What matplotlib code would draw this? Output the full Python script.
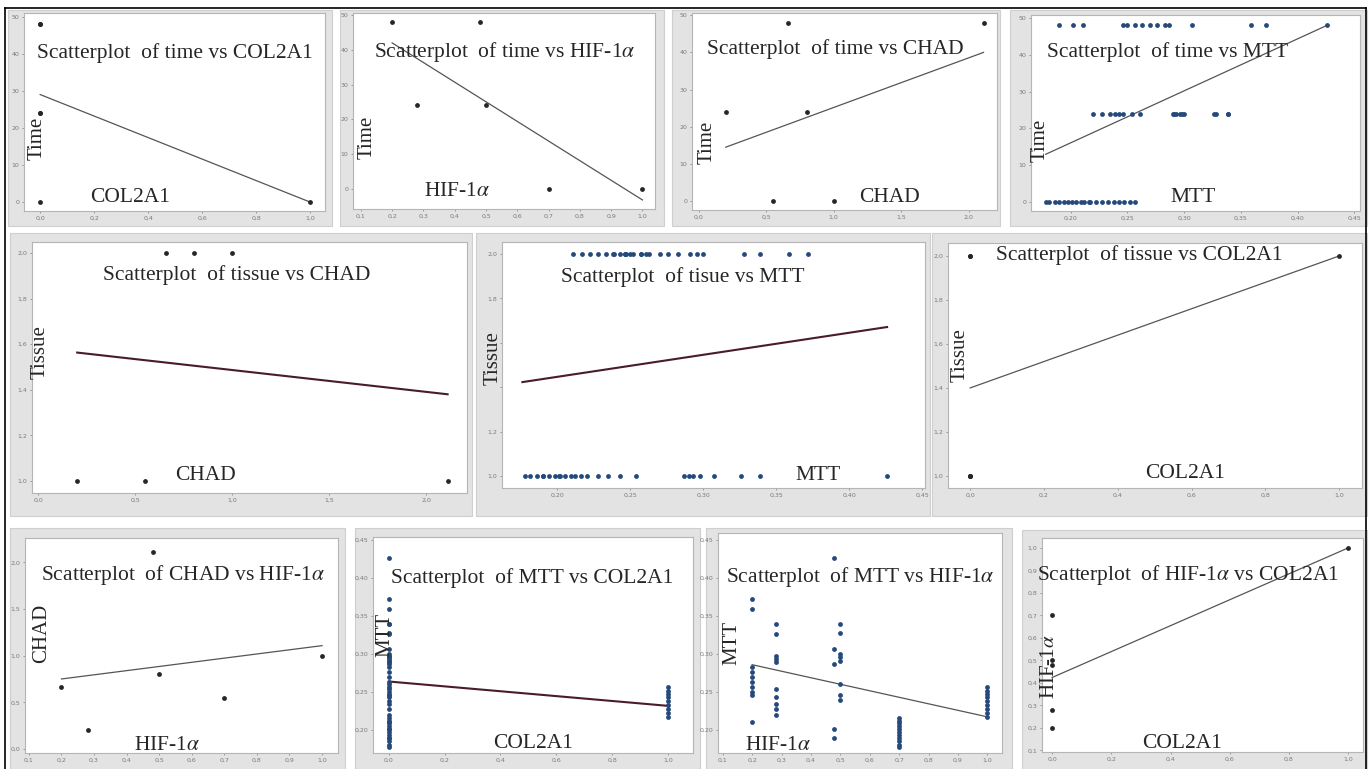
import matplotlib
matplotlib.use("Agg")
import matplotlib.pyplot as plt
from matplotlib.patches import Rectangle
from matplotlib.lines import Line2D
from matplotlib.ticker import MultipleLocator, FuncFormatter

W, H = 1369, 769

# -- data: six sample groups, one value per group (MTT: one per replicate) --
time_h = [48, 24, 48, 24, 0, 0]
tissue = [2, 1, 1, 2, 1, 2]
col2a1 = [0, 0, 0, 0, 0, 1]
hif1a = [0.20, 0.28, 0.48, 0.50, 0.70, 1.00]
chad = [0.66, 0.20, 2.11, 0.80, 0.55, 1.00]
mtt = [
    [0.372, 0.359, 0.283, 0.276, 0.270, 0.263, 0.257, 0.250, 0.246, 0.211],
    [0.339, 0.326, 0.298, 0.293, 0.290, 0.254, 0.243, 0.235, 0.228, 0.220],
    [0.426, 0.307, 0.287, 0.202, 0.190],
    [0.339, 0.328, 0.300, 0.296, 0.291, 0.261, 0.246, 0.239],
    [0.216, 0.212, 0.209, 0.205, 0.201, 0.198, 0.194, 0.190, 0.186, 0.181, 0.178],
    [0.257, 0.252, 0.247, 0.243, 0.238, 0.233, 0.228, 0.222, 0.217],
]

# fitted lines: (x ends, y ends)
fit_time_col2a1 = ([0.0, 1.0], [29.0, 0.0])
fit_time_hif1a = ([0.2, 1.0], [42.0, -3.2])
fit_time_chad = ([0.2, 2.11], [14.5, 40.0])
fit_time_mtt = ([0.178, 0.426], [13.0, 48.0])
fit_tissue_chad = ([0.2, 2.11], [1.563, 1.38])
fit_tissue_mtt = ([0.176, 0.426], [1.423, 1.671])
fit_tissue_col2a1 = ([0.0, 1.0], [1.40, 2.00])
fit_chad_hif1a = ([0.2, 1.0], [0.75, 1.107])
fit_mtt_col2a1 = ([0.0, 1.0], [0.264, 0.232])
fit_mtt_hif1a = ([0.2, 1.0], [0.286, 0.2175])
fit_hif1a_col2a1 = ([0.0, 1.0], [0.424, 1.0])

ALPHA = r"HIF-1$\alpha$"


def px(x, y):
    return x / W, 1 - y / H


def rect_px(x0, y0, x1, y1):
    return [x0 / W, 1 - y1 / H, (x1 - x0) / W, (y1 - y0) / H]


def expand(xs, ys):
    """Broadcast group values against MTT replicate lists."""
    out_x, out_y = [], []
    for xv, yv in zip(xs, ys):
        lst = xv if isinstance(xv, list) else (yv if isinstance(yv, list) else [0])
        n = len(lst)
        out_x += xv if isinstance(xv, list) else [xv] * n
        out_y += yv if isinstance(yv, list) else [yv] * n
    return out_x, out_y


def comma_fmt(dec, hide=()):
    def f(v, _):
        if any(abs(v - h) < 1e-9 for h in hide):
            return ""  # covered by the axis label in the original
        return f"{v:.{dec}f}".replace(".", ",")
    return FuncFormatter(f)


DARK = "#262626"
BLUE = "#24497a"
MAROON = "#4a1c28"

panels = [
    # row 1
    dict(x=col2a1, y=time_h, fit=fit_time_col2a1, title="Scatterplot  of time vs COL2A1",
         xlab="COL2A1", ylab="Time", frame=(8, 10, 332, 226), box=(24, 13, 325, 211),
         xlim=(-0.06, 1.055), ylim=(-2.4, 51), xt=(0.2, 1), yt=(10, 0),
         t_at=(175, 53), xl_at=(130, 197), yl_at=(37, 138)),
    dict(x=hif1a, y=time_h, fit=fit_time_hif1a, title="Scatterplot  of time vs " + ALPHA,
         xlab=ALPHA, ylab="Time", frame=(340, 10, 664, 226), box=(353, 13, 655, 209),
         xlim=(0.075, 1.04), ylim=(-5.8, 50.6), xt=(0.1, 1), yt=(10, 0),
         t_at=(505, 52), xl_at=(457, 192), yl_at=(367, 137)),
    dict(x=chad, y=time_h, fit=fit_time_chad, title="Scatterplot  of time vs CHAD",
         xlab="CHAD", ylab="Time", frame=(672, 10, 1000, 226), box=(692, 13, 997, 210),
         xlim=(-0.05, 2.21), ylim=(-2.4, 50.6), xt=(0.5, 1), yt=(10, 0),
         t_at=(835, 49), xl_at=(890, 197), yl_at=(707, 142)),
    dict(x=mtt, y=time_h, fit=fit_time_mtt, title="Scatterplot  of time vs MTT",
         xlab="MTT", ylab="Time", frame=(1010, 10, 1367, 226), box=(1031, 15, 1360, 211),
         xlim=(0.165, 0.455), ylim=(-2.4, 50.8), xt=(0.05, 2), yt=(10, 0),
         t_at=(1168, 52), xl_at=(1193, 197), yl_at=(1040, 140)),
    # row 2
    dict(x=chad, y=tissue, fit=fit_tissue_chad, title="Scatterplot  of tissue vs CHAD",
         xlab="CHAD", ylab="Tissue", frame=(10, 233, 472, 516), box=(32, 242, 467, 493),
         xlim=(-0.033, 2.21), ylim=(0.947, 2.048), xt=(0.5, 1), yt=(0.2, 1),
         t_at=(237, 275), xl_at=(206, 475), yl_at=(40, 352), fit_color=MAROON),
    dict(x=mtt, y=tissue, fit=fit_tissue_mtt, title="Scatterplot  of tisue vs MTT",
         xlab="MTT", ylab="Tissue", frame=(476, 233, 930, 516), box=(502, 242, 925, 488),
         xlim=(0.162, 0.452), ylim=(0.946, 2.054), xt=(0.05, 2), yt=(0.2, 1),
         yhide=(1.4, 1.6),
         t_at=(683, 277), xl_at=(818, 475), yl_at=(493, 358), fit_color=MAROON),
    dict(x=col2a1, y=tissue, fit=fit_tissue_col2a1, title="Scatterplot  of tissue vs COL2A1",
         xlab="COL2A1", ylab="Tissue", frame=(932, 233, 1367, 516), box=(948, 243, 1362, 488),
         xlim=(-0.06, 1.062), ylim=(0.945, 2.059), xt=(0.2, 1), yt=(0.2, 1),
         t_at=(1139, 255), xl_at=(1185, 473), yl_at=(960, 355)),
    # row 3
    dict(x=hif1a, y=chad, fit=fit_chad_hif1a, title="Scatterplot  of CHAD vs " + ALPHA,
         xlab=ALPHA, ylab="CHAD", frame=(10, 528, 345, 775), box=(25, 538, 338, 753),
         xlim=(0.088, 1.049), ylim=(-0.043, 2.26), xt=(0.1, 1), yt=(0.5, 1),
         t_at=(183, 575), xl_at=(167, 745), yl_at=(42, 633)),
    dict(x=col2a1, y=mtt, fit=fit_mtt_col2a1, title="Scatterplot  of MTT vs COL2A1",
         xlab="COL2A1", ylab="MTT", frame=(355, 528, 700, 775), box=(373, 537, 693, 753),
         xlim=(-0.057, 1.09), ylim=(0.17, 0.454), xt=(0.2, 1), yt=(0.05, 2),
         t_at=(532, 578), xl_at=(533, 743), yl_at=(385, 635), fit_color=MAROON),
    dict(x=hif1a, y=mtt, fit=fit_mtt_hif1a, title="Scatterplot  of MTT vs " + ALPHA,
         xlab=ALPHA, ylab="MTT", frame=(706, 528, 1012, 775), box=(718, 533, 1002, 753),
         xlim=(0.084, 1.05), ylim=(0.17, 0.459), xt=(0.1, 1), yt=(0.05, 2),
         t_at=(860, 577), xl_at=(778, 745), yl_at=(732, 643)),
    dict(x=col2a1, y=hif1a, fit=fit_hif1a_col2a1, title="Scatterplot  of " + ALPHA + " vs COL2A1",
         xlab="COL2A1", ylab=ALPHA, frame=(1022, 530, 1367, 775), box=(1042, 538, 1363, 752),
         xlim=(-0.034, 1.05), ylim=(0.093, 1.044), xt=(0.2, 1), yt=(0.1, 1),
         t_at=(1188, 575), xl_at=(1182, 743), yl_at=(1050, 667)),
]

plt.rcParams["mathtext.fontset"] = "stix"
SERIF = ["Liberation Serif", "DejaVu Serif"]

fig = plt.figure(figsize=(W / 100, H / 100), dpi=100)
fig.patch.set_facecolor("white")

for p in panels:
    x0, y0, x1, y1 = p["frame"]
    fig.add_artist(Rectangle(px(x0, y1), (x1 - x0) / W, (y1 - y0) / H,
                             transform=fig.transFigure, facecolor="#e3e3e3",
                             edgecolor="#cfcfcf", lw=0.8, zorder=-5))

    ax = fig.add_axes(rect_px(*p["box"]))
    ax.set_facecolor("white")
    uses_mtt = p["x"] is mtt or p["y"] is mtt
    xs, ys = expand(p["x"], p["y"])
    ax.scatter(xs, ys, s=12, color=BLUE if uses_mtt else DARK, lw=0, zorder=3)
    fx, fy = p["fit"]
    ax.plot(fx, fy, color=p.get("fit_color", "#555555"),
            lw=1.5 if "fit_color" in p else 0.9, zorder=2)

    ax.set_xlim(*p["xlim"])
    ax.set_ylim(*p["ylim"])
    ax.xaxis.set_major_locator(MultipleLocator(p["xt"][0]))
    ax.xaxis.set_major_formatter(comma_fmt(p["xt"][1]))
    ax.yaxis.set_major_locator(MultipleLocator(p["yt"][0]))
    ax.yaxis.set_major_formatter(comma_fmt(p["yt"][1], p.get("yhide", ())))
    ax.tick_params(labelsize=4.5, colors="#7a7a7a", length=1.5, width=0.5, pad=2)
    for s in ax.spines.values():
        s.set_color("#b5b5b5")
        s.set_linewidth(0.8)

    fig.text(*px(*p["t_at"]), p["title"], ha="center", va="center",
             family=SERIF, fontsize=15.5, color=DARK, zorder=6)
    fig.text(*px(*p["xl_at"]), p["xlab"], ha="center", va="center",
             family=SERIF, fontsize=15.5, color=DARK, zorder=6)
    fig.text(*px(*p["yl_at"]), p["ylab"], ha="center", va="center", rotation=90,
             family=SERIF, fontsize=15, color=DARK, zorder=6)

# black border round the composite (left, top, right)
for xa, ya in [([5, 5], [8, 769]), ([5, 1366], [8, 8]), ([1366, 1366], [8, 769])]:
    fig.add_artist(Line2D([v / W for v in xa], [1 - v / H for v in ya],
                          transform=fig.transFigure, color="black", lw=1.2))

fig.savefig("out.png", dpi=100)
